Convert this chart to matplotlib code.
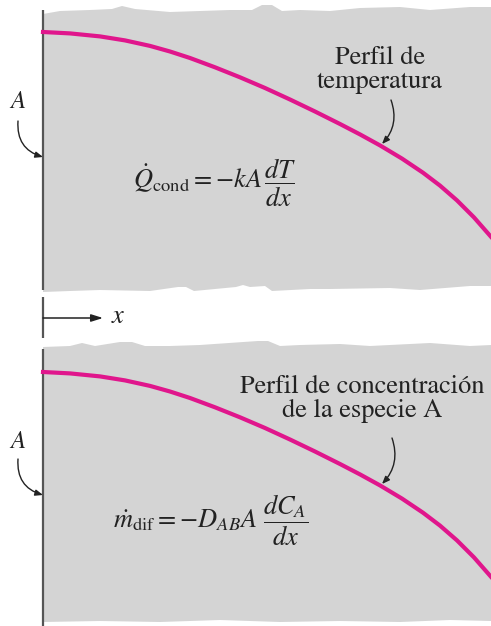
"""Conduction vs. diffusion analogy sketch (two slab panels)."""

import numpy as np
import matplotlib
matplotlib.use("Agg")
import matplotlib.pyplot as plt

plt.rcParams["mathtext.fontset"] = "stix"
plt.rcParams["font.family"] = ["STIXGeneral", "Liberation Serif", "DejaVu Serif"]

GRAY = "#d4d4d4"
MAGENTA = "#e0168c"
WALL = "#555555"
INK = "#222222"

# Temperature profile (top panel)
TEMP_X = [43, 70, 100, 125, 150, 170, 190, 215, 240, 265, 290, 315, 340,
          360, 380, 402, 423, 440, 457, 474, 491]
TEMP_Y = [32, 33.4, 36.4, 40.4, 45.9, 51.5, 58.0, 67.3, 77.3, 88.0, 99.5,
          111.5, 124.0, 134.4, 145.4, 158.6, 172.7, 185.6, 200.4, 217.4, 236.8]

# Concentration profile of species A (bottom panel)
CONC_X = [43, 70, 100, 125, 150, 170, 190, 215, 240, 265, 290, 315, 340,
          360, 380, 402, 423, 440, 457, 474, 491]
CONC_Y = [372, 373.4, 376.4, 380.4, 385.9, 391.5, 398.0, 407.3, 417.3, 428.0,
          439.5, 451.5, 464.0, 474.4, 485.4, 498.6, 512.7, 525.6, 540.4,
          557.4, 576.8]

# Torn paper edges of the two gray slabs
P1_TOP_X = [43, 60, 90, 112, 122, 135, 170, 200, 230, 252, 262, 272, 282,
            300, 330, 360, 400, 430, 470, 491]
P1_TOP_Y = [14, 11, 10, 9, 6, 9, 12, 11, 10, 10, 5, 5, 11, 10, 11, 8, 7, 10,
            7, 7]
P1_BOT_X = [43, 70, 100, 150, 178, 186, 194, 236, 243, 250, 265, 272, 310,
            330, 390, 420, 470, 491]
P1_BOT_Y = [292, 291, 290, 291, 287, 287, 291, 287, 285, 287, 286, 291, 289,
            289, 288, 290, 286, 286]

P2_TOP_X = [43, 70, 82, 95, 120, 132, 145, 170, 200, 258, 268, 280, 300, 340,
            370, 430, 470, 491]
P2_TOP_Y = [347, 346, 343, 346, 342, 342, 346, 346, 345, 341, 341, 346, 345,
            344, 346, 343, 346, 345]
P2_BOT_X = [43, 100, 160, 220, 280, 340, 400, 450, 491]
P2_BOT_Y = [622, 621, 622, 620, 622, 621, 622, 620, 621]

# Wall (surface A) segments
WALL_Y0 = [10, 297, 349]
WALL_Y1 = [290, 338, 626]


def _slab(ax, top_x, top_y, bot_x, bot_y):
    xs = np.concatenate([top_x, bot_x[::-1]])
    ys = np.concatenate([top_y, bot_y[::-1]])
    ax.fill(xs, ys, color=GRAY, lw=0, zorder=1)


def _curved_arrow(ax, start, end, rad):
    ax.annotate(
        "", xy=end, xytext=start,
        arrowprops=dict(
            arrowstyle="-|>,head_length=0.45,head_width=0.18",
            connectionstyle=f"arc3,rad={rad}",
            color=INK, lw=1.0, shrinkA=0, shrinkB=0,
        ),
        zorder=5,
    )


fig = plt.figure(figsize=(4.91, 6.26), dpi=100)
ax = fig.add_axes([0, 0, 1, 1])
ax.set_xlim(0, 491)
ax.set_ylim(626, 0)
ax.axis("off")

_slab(ax, P1_TOP_X, P1_TOP_Y, P1_BOT_X, P1_BOT_Y)
_slab(ax, P2_TOP_X, P2_TOP_Y, P2_BOT_X, P2_BOT_Y)

ax.vlines([43] * len(WALL_Y0), WALL_Y0, WALL_Y1, color=WALL, lw=1.6, zorder=3)

ax.plot(TEMP_X, TEMP_Y, color=MAGENTA, lw=3.0, solid_joinstyle="round",
        zorder=4)
ax.plot(CONC_X, CONC_Y, color=MAGENTA, lw=3.0, solid_joinstyle="round",
        zorder=4)

# Top panel texts
ax.text(380, 70, "Perfil de\ntemperatura", ha="center", va="center",
        fontsize=19, color=INK, linespacing=0.95)
_curved_arrow(ax, (391, 100), (382, 144), -0.3)
ax.text(133, 183, r"$\dot{Q}_{\mathrm{cond}} = -kA\,\dfrac{dT}{dx}$",
        ha="left", va="center", fontsize=19, color=INK)
ax.text(18, 102, r"$A$", ha="center", va="center", fontsize=18, color=INK)
_curved_arrow(ax, (18, 121), (43, 157), 0.4)

# x direction arrow between panels
ax.annotate(
    "", xy=(103, 318), xytext=(43, 318),
    arrowprops=dict(arrowstyle="-|>,head_length=0.7,head_width=0.22",
                    color=INK, lw=1.1, shrinkA=0, shrinkB=0),
)
ax.text(111, 317, r"$x$", ha="left", va="center", fontsize=19, color=INK)

# Bottom panel texts
ax.text(362, 399, "Perfil de concentración\nde la especie A", ha="center",
        va="center", fontsize=19, color=INK, linespacing=0.95)
_curved_arrow(ax, (392, 438), (382, 484), -0.3)
ax.text(113, 520, r"$\dot{m}_{\mathrm{dif}} = -D_{AB}A\ \dfrac{dC_A}{dx}$",
        ha="left", va="center", fontsize=19, color=INK)
ax.text(18, 442, r"$A$", ha="center", va="center", fontsize=18, color=INK)
_curved_arrow(ax, (18, 459), (43, 495), 0.4)

fig.savefig("out.png", dpi=100)
plt.close(fig)
